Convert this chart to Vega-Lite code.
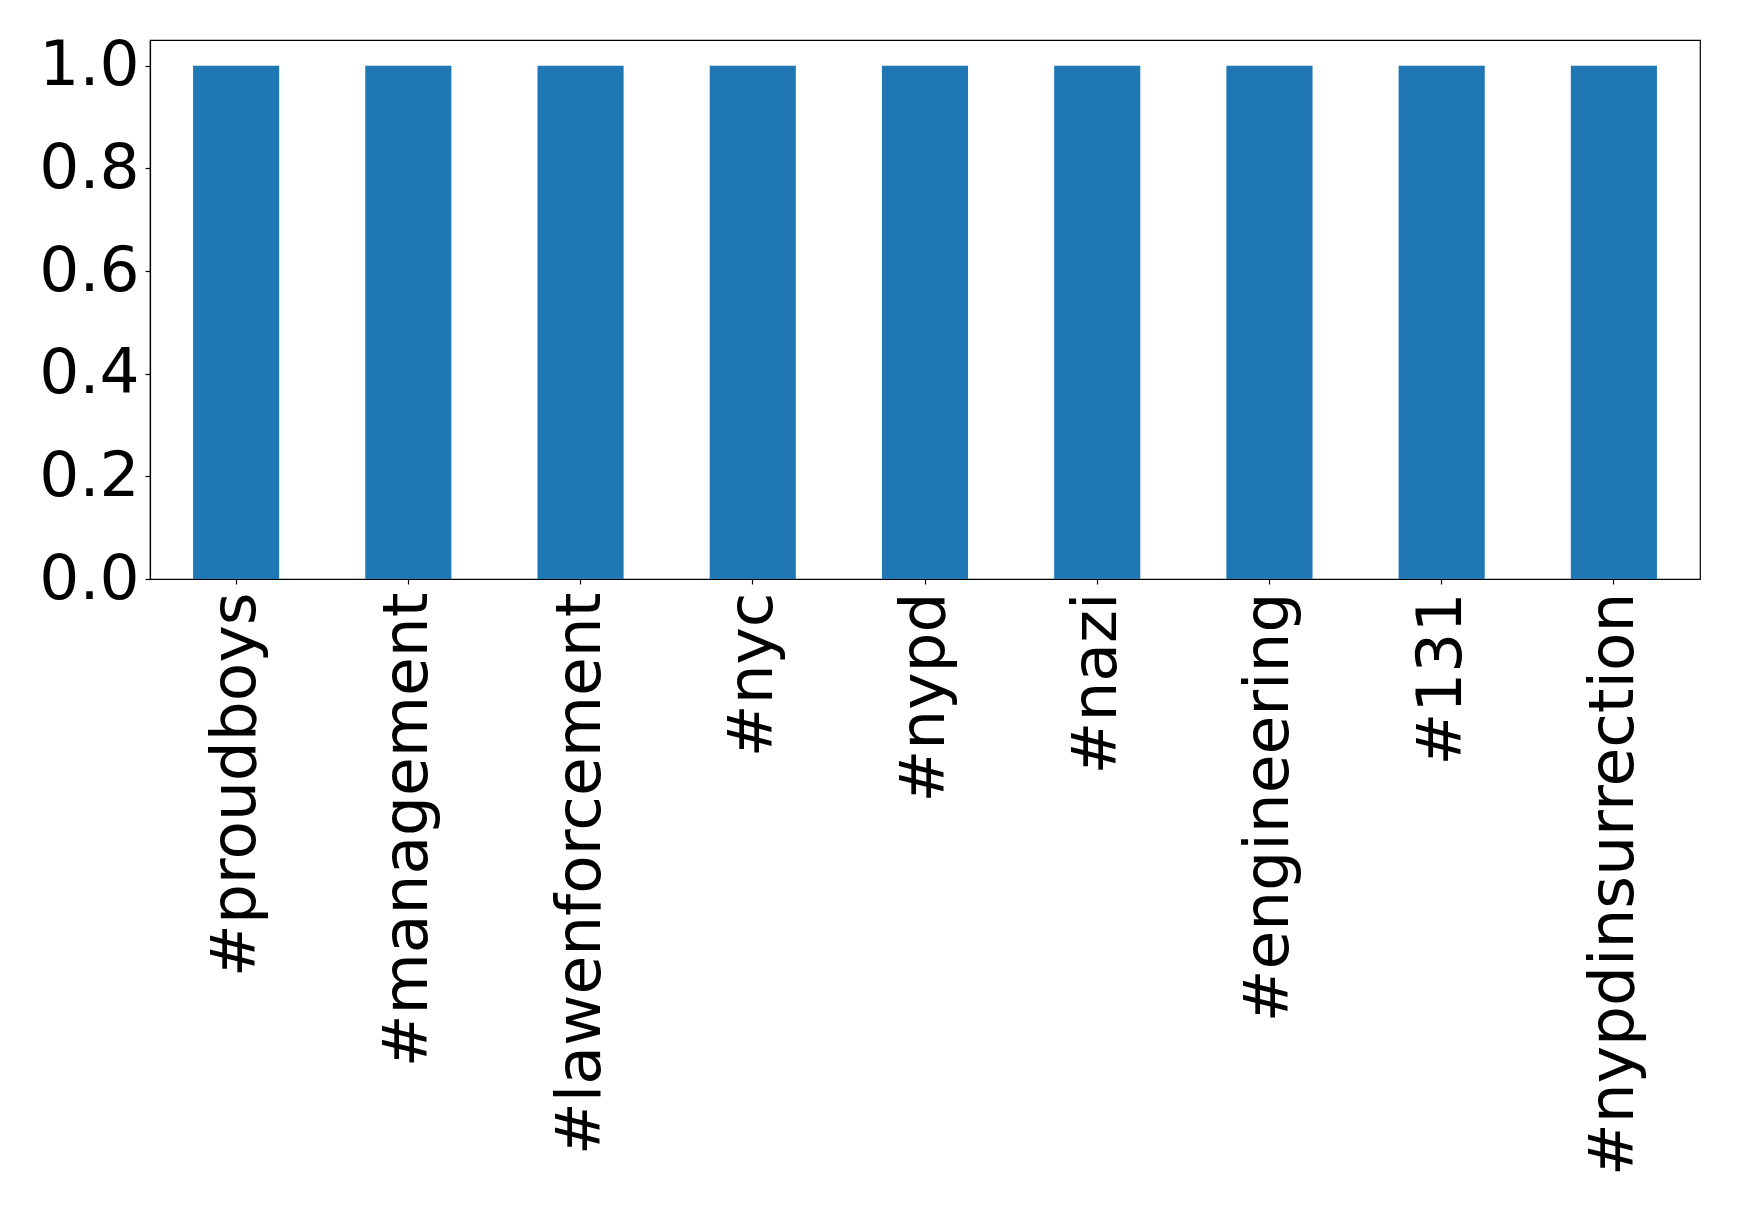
{
  "$schema": "https://vega.github.io/schema/vega-lite/v6.json",
  "autosize": {"type": "none"},
  "padding": {"left": 150, "top": 40, "right": 39, "bottom": 628},
  "width": 1550,
  "height": 539,
  "background": "white",
  "config": {
    "font": "DejaVu Sans",
    "view": {"stroke": "black", "strokeWidth": 1.2},
    "axis": {"grid": false, "domainColor": "black", "tickColor": "black", "labelColor": "black", "domainWidth": 1.2, "tickWidth": 1.2, "tickSize": 5, "labelFont": "DejaVu Sans", "labelFontSize": 63}
  },
  "data": {
    "values": [
      {"hashtag": "#proudboys", "count": 1},
      {"hashtag": "#management", "count": 1},
      {"hashtag": "#lawenforcement", "count": 1},
      {"hashtag": "#nyc", "count": 1},
      {"hashtag": "#nypd", "count": 1},
      {"hashtag": "#nazi", "count": 1},
      {"hashtag": "#engineering", "count": 1},
      {"hashtag": "#131", "count": 1},
      {"hashtag": "#nypdinsurrection", "count": 1}
    ]
  },
  "mark": {"type": "bar", "color": "#1f77b4"},
  "encoding": {
    "x": {
      "field": "hashtag", "type": "nominal", "sort": null,
      "scale": {"paddingInner": 0.5, "paddingOuter": 0.25},
      "axis": {"title": null, "labelAngle": -90, "labelAlign": "right", "labelBaseline": "middle", "labelPadding": 8, "labelLimit": 0}
    },
    "y": {
      "field": "count", "type": "quantitative",
      "scale": {"domain": [0, 1.05], "nice": false},
      "axis": {"title": null, "values": [0, 0.2, 0.4, 0.6, 0.8, 1.0], "format": ".1f", "labelPadding": 6}
    }
  }
}
